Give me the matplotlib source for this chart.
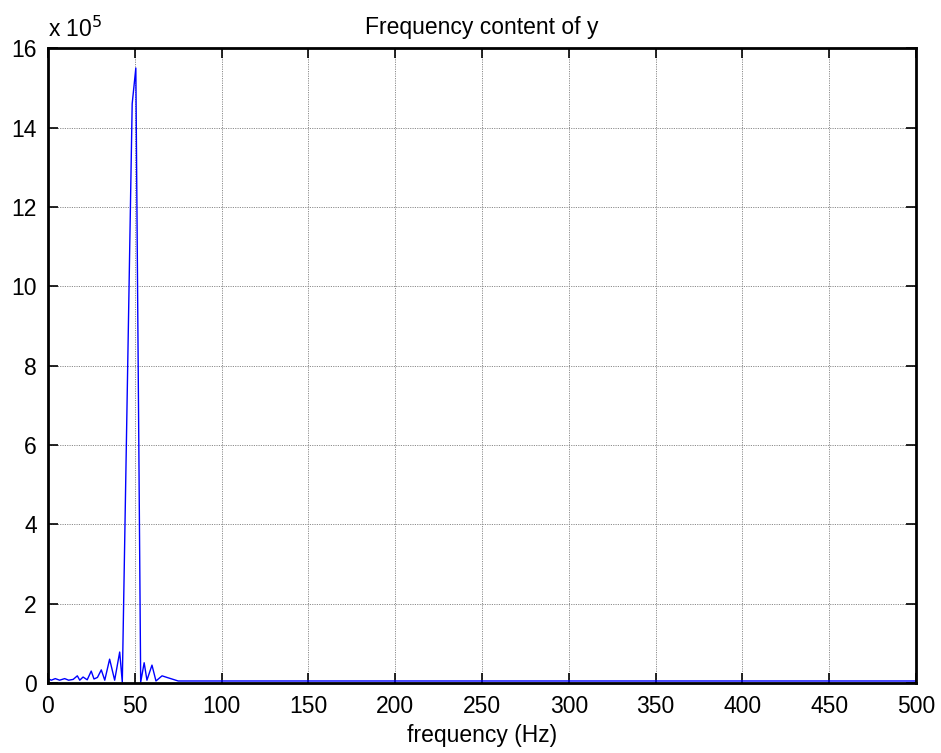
import matplotlib
matplotlib.use("Agg")
import matplotlib.pyplot as plt

# Spectrum (magnitude in units of 1e5)
freq_hz = [0, 1.9, 4.2, 6.7, 9.6, 11.9, 14.5, 16.9, 18.3, 20.2, 22.6, 24.9, 26.5,
           28.5, 30.7, 32.7, 35.5, 38.4, 41.3, 42.8, 48.5, 50.6, 53.4, 55.4,
           57.0, 59.9, 62.2, 65.7, 68.5, 71.4, 75.0, 80.0, 100, 200, 300, 400, 500]
mag_e5 = [0.11, 0.07, 0.11, 0.07, 0.11, 0.07, 0.09, 0.18, 0.07, 0.15, 0.08, 0.30, 0.10,
          0.14, 0.33, 0.07, 0.60, 0.07, 0.78, 0.02, 14.6, 15.5, 0.02, 0.51,
          0.07, 0.45, 0.05, 0.18, 0.14, 0.10, 0.05, 0.05, 0.05, 0.05, 0.05, 0.05, 0.05]

x_ticks = list(range(0, 501, 50))
y_ticks = list(range(0, 17, 2))

FONT = "Liberation Sans"
FS = 16.5

fig = plt.figure(figsize=(9.41, 7.53), dpi=100)
ax = fig.add_axes([0.051, 0.093, 0.9224, 0.843])

ax.plot(freq_hz, mag_e5, color="#0000ff", linewidth=1.0)

ax.set_xlim(0, 500)
ax.set_ylim(0, 16)
ax.set_xticks(x_ticks)
ax.set_yticks(y_ticks)
ax.set_xticklabels([str(v) for v in x_ticks], fontsize=FS, fontfamily=FONT)
ax.set_yticklabels([str(v) for v in y_ticks], fontsize=FS, fontfamily=FONT)

ax.tick_params(direction="in", length=7, width=1.2, top=True, right=True,
               colors="black")
ax.tick_params(axis="x", pad=9)
ax.tick_params(axis="y", pad=8)
ax.grid(True, linestyle=(0, (1.2, 1.2)), color="#8c8c8c", linewidth=0.7)
for s in ax.spines.values():
    s.set_linewidth(2)
    s.set_color("black")

ax.set_title("Frequency content of y", fontsize=FS, fontfamily=FONT, pad=10)
ax.set_xlabel("frequency (Hz)", fontsize=FS, fontfamily=FONT, labelpad=4)

ax.text(0.0, 1.01, r"x 10$^{5}$", transform=ax.transAxes, fontsize=FS,
        fontfamily=FONT, ha="left", va="bottom")

fig.savefig("out.png", dpi=100, facecolor="white")
